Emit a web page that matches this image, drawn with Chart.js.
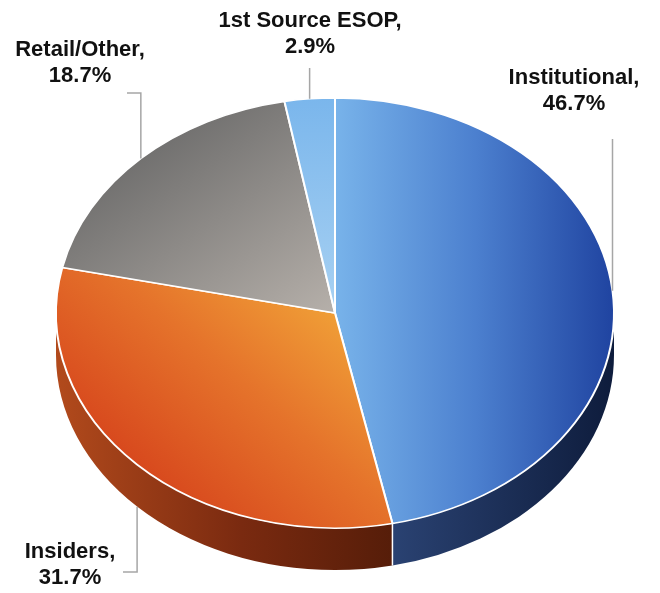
<!DOCTYPE html>
<html>
<head>
<meta charset="utf-8">
<script src="https://cdn.jsdelivr.net/npm/chart.js@4"></script>
<style>
html, body { margin: 0; padding: 0; background: #fff; }
#wrap { width: 660px; height: 593px; position: relative; }
</style>
</head>
<body>
<div id="wrap"><canvas id="pieChart"></canvas></div>
<script>
const labels = ['Institutional', 'Insiders', 'Retail/Other', '1st Source ESOP'];
const values = [46.7, 31.7, 18.7, 2.9];

// label text centre (first line) + where the leader line bends
const labelSpots = [
    { x: 574, y: 78, bendY: 139, endX: null },
    { x: 70, y: 552, bendY: 572, endX: 123 },
    { x: 80, y: 50, bendY: 93, endX: 127 },
    { x: 310, y: 21, bendY: 68, endX: null }
];

const faceY = 313;   // where the tilted top face is centred on screen
const tilt = 0.771;  // ry / rx
const depth = 42;    // thickness of the 3d side

const sideColors = [
    ['#2a4272', '#0e1c3c'],
    ['#b24a1c', '#561d09'],
    ['#555555', '#333333'],
    ['#3d6a9a', '#2a4f7a']
];

function topFill(c) {
    const chart = c.chart;
    const area = chart.chartArea;
    if (!area) return '#999';
    const cx = (area.left + area.right) / 2;
    const cy = (area.top + area.bottom) / 2;
    const r = 280;
    const ctx = chart.ctx;
    let g;
    if (c.dataIndex === 0) {
        g = ctx.createLinearGradient(cx, 0, cx + r, 0);
        g.addColorStop(0, '#78b3ea');
        g.addColorStop(0.5, '#4c80cf');
        g.addColorStop(1, '#1f43a0');
    } else if (c.dataIndex === 1) {
        g = ctx.createLinearGradient(cx + 0.1 * r, cy - 0.1 * r, cx - 0.8 * r, cy + 0.7 * r);
        g.addColorStop(0, '#f3ab3a');
        g.addColorStop(0.5, '#e5732b');
        g.addColorStop(1, '#d6441c');
    } else if (c.dataIndex === 2) {
        g = ctx.createLinearGradient(cx - 0.8 * r, cy - 0.9 * r, cx, cy);
        g.addColorStop(0, '#646464');
        g.addColorStop(1, '#b6b0aa');
    } else {
        g = ctx.createLinearGradient(0, cy - r, 0, cy);
        g.addColorStop(0, '#7ab6ec');
        g.addColorStop(1, '#a8d1f2');
    }
    return g;
}

const tiltPlugin = {
    id: 'tilt',
    beforeDatasetsDraw(chart) {
        const ctx = chart.ctx;
        const meta = chart.getDatasetMeta(0);
        const first = meta.data[0];
        const cx = first.x, cy = first.y, r = first.outerRadius;
        const ry = r * tilt;

        // side walls, only the front half shows
        meta.data.forEach((arc, i) => {
            const a0 = Math.max(arc.startAngle, 0);
            const a1 = Math.min(arc.endAngle, Math.PI);
            if (a1 <= a0) return;
            const xa = cx + r * Math.cos(a1);
            const xb = cx + r * Math.cos(a0);
            const g = ctx.createLinearGradient(Math.min(xa, xb), 0, Math.max(xa, xb), 0);
            const cols = sideColors[i];
            if (i === 0) {
                g.addColorStop(0, cols[0]);
                g.addColorStop(1, cols[1]);
            } else {
                g.addColorStop(0, cols[0]);
                g.addColorStop(0.55, '#7a2a10');
                g.addColorStop(1, cols[1]);
            }
            ctx.beginPath();
            ctx.ellipse(cx, faceY, r, ry, 0, a0, a1);
            ctx.ellipse(cx, faceY + depth, r, ry, 0, a1, a0, true);
            ctx.closePath();
            ctx.fillStyle = g;
            ctx.fill();
        });

        // white seams on the side
        ctx.strokeStyle = '#ffffff';
        ctx.lineWidth = 1.5;
        meta.data.forEach(arc => {
            const a = arc.startAngle;
            if (a > 0 && a < Math.PI) {
                const x = cx + r * Math.cos(a);
                const y = faceY + ry * Math.sin(a);
                ctx.beginPath();
                ctx.moveTo(x, y);
                ctx.lineTo(x, y + depth);
                ctx.stroke();
            }
        });

        ctx.save();
        ctx.translate(cx, faceY);
        ctx.scale(1, tilt);
        ctx.translate(-cx, -cy);
    },
    afterDatasetsDraw(chart) {
        chart.ctx.restore();
    },
    afterDraw(chart) {
        const ctx = chart.ctx;
        const meta = chart.getDatasetMeta(0);
        const first = meta.data[0];
        const cx = first.x, r = first.outerRadius;
        const ry = r * tilt;

        meta.data.forEach((arc, i) => {
            const spot = labelSpots[i];
            const mid = (arc.startAngle + arc.endAngle) / 2;
            const ax = cx + r * Math.cos(mid);
            let ay = faceY + ry * Math.sin(mid);
            if (Math.sin(mid) > 0.3) ay += depth;

            ctx.strokeStyle = '#a6a6a6';
            ctx.lineWidth = 1.5;
            ctx.beginPath();
            ctx.moveTo(ax, ay);
            ctx.lineTo(ax, spot.bendY);
            if (spot.endX !== null) ctx.lineTo(spot.endX, spot.bendY);
            ctx.stroke();

            ctx.fillStyle = '#111111';
            ctx.font = 'bold 22px "Liberation Sans", Arial, sans-serif';
            ctx.textAlign = 'center';
            ctx.textBaseline = 'middle';
            ctx.fillText(labels[i] + ',', spot.x, spot.y);
            ctx.fillText(values[i].toFixed(1) + '%', spot.x, spot.y + 26);
        });
    }
};

const chart = new Chart(document.getElementById('pieChart'), {
    type: 'pie',
    data: {
        labels: labels,
        datasets: [{
            data: values,
            backgroundColor: topFill,
            borderColor: '#ffffff',
            borderWidth: 2
        }]
    },
    options: {
        responsive: true,
        maintainAspectRatio: false,
        devicePixelRatio: 1,
        animation: false,
        radius: 279,
        layout: { padding: { left: 56, right: 46, top: 0, bottom: 33 } },
        plugins: {
            legend: { display: false },
            tooltip: { enabled: false }
        }
    },
    plugins: [tiltPlugin]
});
</script>
</body>
</html>
